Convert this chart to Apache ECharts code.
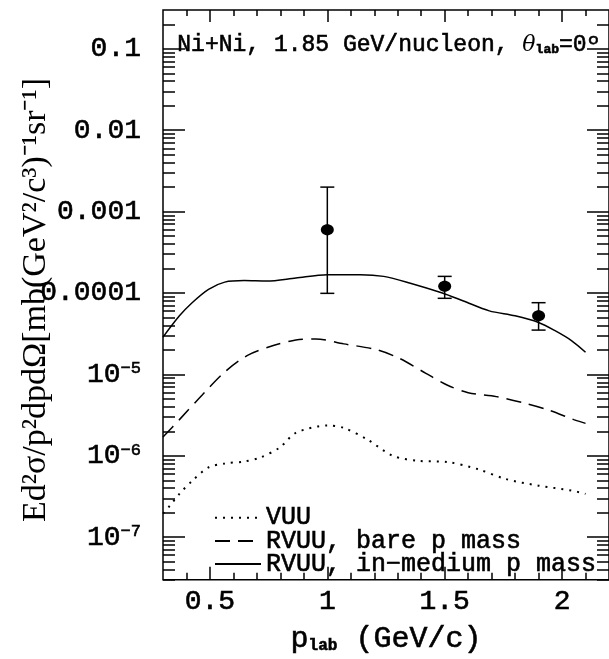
<!DOCTYPE html>
<html>
<head>
<meta charset="utf-8">
<script src="https://cdn.jsdelivr.net/npm/echarts@6/dist/echarts.min.js"></script>
<style>
  html, body { margin: 0; padding: 0; background: #fff; }
  #chart { width: 609px; height: 659px; }
</style>
</head>
<body>
<div id="chart"></div>
<script>
// curves, p_lab in GeV/c
var vuuP     = [0.30, 0.33, 0.37, 0.425, 0.494, 0.563, 0.646, 0.714, 0.797, 0.866, 1.00, 1.07, 1.17, 1.28, 1.39, 1.51, 1.64, 1.76, 1.90, 2.04, 2.10]
var vuuV     = [1.95e-7, 2.45e-7, 3.4e-7, 4.94e-7, 7.2e-7, 8.04e-7, 8.5e-7, 9.5e-7, 1.26e-6, 1.91e-6, 2.35e-6, 2.2e-6, 1.59e-6, 9.95e-7, 8.65e-7, 8.4e-7, 6.86e-7, 5.18e-7, 4.29e-7, 3.74e-7, 3.4e-7]
var bareP    = [0.30, 0.37, 0.467, 0.563, 0.66, 0.77, 0.866, 0.95, 1.07, 1.21, 1.31, 1.42, 1.51, 1.60, 1.72, 1.83, 1.94, 2.05, 2.10]
var bareV    = [1.7e-6, 2.78e-6, 5.58e-6, 1.07e-5, 1.71e-5, 2.26e-5, 2.65e-5, 2.73e-5, 2.37e-5, 2.01e-5, 1.56e-5, 1.03e-5, 7.4e-6, 5.96e-6, 5.33e-6, 4.51e-6, 3.67e-6, 2.78e-6, 2.5e-6]
var mediumP  = [0.30, 0.37, 0.424, 0.494, 0.563, 0.646, 0.742, 0.866, 1.00, 1.14, 1.24, 1.35, 1.49, 1.58, 1.69, 1.80, 1.90, 1.97, 2.04, 2.10]
var mediumV  = [2.87e-5, 5.24e-5, 7.6e-5, 1.11e-4, 1.36e-4, 1.42e-4, 1.40e-4, 1.53e-4, 1.68e-4, 1.68e-4, 1.60e-4, 1.33e-4, 1.0e-4, 7.97e-5, 6.03e-5, 5.24e-5, 4.34e-5, 3.44e-5, 2.6e-5, 1.87e-5]

// measured points with error bars
var dataP  = [1.0, 1.5, 1.9]
var dataV  = [6.0e-4, 1.21e-4, 5.24e-5]
var dataLo = [9.9e-5, 8.6e-5, 3.5e-5]
var dataHi = [2.0e-3, 1.6e-4, 7.6e-5]

// ticks
var xMajor = [0.5, 1, 1.5, 2]
var xMinor = [0.4, 0.6, 0.7, 0.8, 0.9, 1.1, 1.2, 1.3, 1.4, 1.6, 1.7, 1.8, 1.9, 2.1]
var yMajor = [1e-7, 1e-6, 1e-5, 1e-4, 1e-3, 1e-2, 1e-1]
var yLabels = ['10|−7', '10|−6', '10|−5', '0.0001', '0.001', '0.01', '0.1']
var yDecades = [1e-8, 1e-7, 1e-6, 1e-5, 1e-4, 1e-3, 1e-2, 1e-1]
var yMult = [2, 3, 4, 5, 6, 7, 8, 9]

var names = ['VUU', 'RVUU, bare p mass', 'RVUU, in−medium p mass']

var mono = 'Liberation Mono'
// thin mono font, thickened a little with a text border
var ink = { color: '#000', textBorderColor: '#000', textBorderWidth: 0.6 }
var gInk = { fill: '#000', stroke: '#000', lineWidth: 0.6 }

var yMinor = []
yDecades.forEach(function (d) {
  yMult.forEach(function (m) {
    var v = d * m
    if (v >= 3e-8 && v <= 0.3) yMinor.push(v)
  })
})

function pairs(xs, ys) {
  return xs.map(function (x, i) { return [x, ys[i]] })
}

function txt(size, extra) {
  return Object.assign({ fontFamily: mono, fontSize: size }, ink, extra || {})
}

function gtxt(size, extra) {
  return Object.assign({ fontFamily: mono, fontSize: size }, gInk, extra || {})
}

function xAx(pos, ticks, len, labels) {
  return {
    type: 'value', position: pos, min: 0.3, max: 2.2,
    axisLine: { show: false },
    axisTick: { show: true, inside: true, length: len, customValues: ticks, lineStyle: { color: '#000', width: 1.5 } },
    axisLabel: labels ? Object.assign({
      show: true, customValues: xMajor, margin: 8,
      formatter: function (v) { return String(Math.round(v * 10) / 10) }
    }, txt(28)) : { show: false },
    splitLine: { show: false }
  }
}

function yAx(pos, ticks, len, labels) {
  return {
    type: 'log', logBase: 10, position: pos, min: 3e-8, max: 0.3,
    axisLine: { show: false },
    axisTick: { show: true, inside: true, length: len, customValues: ticks, lineStyle: { color: '#000', width: 1.5 } },
    axisLabel: labels ? {
      show: true, customValues: yMajor, margin: 22,
      formatter: function (v) {
        var k = Math.round(Math.log10(v)) + 7
        var s = yLabels[k] || ''
        if (s.indexOf('|') >= 0) {
          var a = s.split('|')
          return '{b|' + a[0] + '}{e|' + a[1] + '}'
        }
        return '{b|' + s + '}'
      },
      rich: {
        b: txt(28, { verticalAlign: 'bottom' }),
        e: txt(17, { verticalAlign: 'top' })
      }
    } : { show: false },
    splitLine: { show: false }
  }
}

var xAxes = [xAx('bottom', xMajor, 13, true), xAx('bottom', xMinor, 7), xAx('top', xMajor, 12), xAx('top', xMinor, 6)]
xAxes[0].name = '{p|p}{s|lab}{p| (GeV/c)}'
xAxes[0].nameLocation = 'middle'
xAxes[0].nameGap = 44
xAxes[0].nameTextStyle = {
  rich: {
    p: txt(30, { verticalAlign: 'top' }),
    s: txt(16, { fontWeight: 'bold', verticalAlign: 'bottom', padding: [10, 0, 0, 0] })
  }
}

var yAxes = [yAx('left', yMajor, 22, true), yAx('left', yMinor, 12), yAx('right', yMajor, 22), yAx('right', yMinor, 12)]

var lineBase = { type: 'line', xAxisIndex: 0, yAxisIndex: 0, symbol: 'none', smooth: 0.3, silent: true, color: '#000' }

var chart = echarts.init(document.getElementById('chart'))
chart.setOption({
  animation: false,
  backgroundColor: '#fff',
  grid: { left: 163, top: 10, right: -14, bottom: 73, show: true, borderColor: '#000', borderWidth: 1.5, containLabel: false },
  xAxis: xAxes,
  yAxis: yAxes,
  legend: {
    data: names, orient: 'vertical', left: 209, top: 500,
    itemWidth: 46, itemHeight: 14, itemGap: -2.5, selectedMode: false,
    itemStyle: { opacity: 0 },
    textStyle: txt(25)
  },
  graphic: [
    {
      type: 'text', left: 177, top: 33, silent: true,
      style: {
        text: '{t|Ni+Ni, 1.85 GeV/nucleon, }{g|θ}{s|lab}{t|=0º}',
        rich: {
          t: gtxt(23),
          g: { fontFamily: 'DejaVu Serif', fontStyle: 'italic', fontSize: 22, fill: '#000' },
          s: gtxt(13, { fontWeight: 'bold', verticalAlign: 'bottom', padding: [10, 0, 0, 0] })
        }
      }
    },
    {
      type: 'text', x: 36, y: 300, rotation: Math.PI / 2, silent: true,
      style: {
        text: 'Ed²σ/p²dpdΩ[mb(GeV²/c³)⁻¹sr⁻¹]',
        fontFamily: 'Liberation Serif', fontSize: 34, fill: '#000',
        align: 'center', verticalAlign: 'middle', textAlign: 'center', textVerticalAlign: 'middle'
      }
    }
  ],
  series: [
    Object.assign({}, lineBase, { name: names[0], data: pairs(vuuP, vuuV), lineStyle: { color: '#000', width: 2, type: [2, 6] } }),
    Object.assign({}, lineBase, { name: names[1], data: pairs(bareP, bareV), lineStyle: { color: '#000', width: 1.5, type: [15, 8] } }),
    Object.assign({}, lineBase, { name: names[2], data: pairs(mediumP, mediumV), lineStyle: { color: '#000', width: 1.5, type: 'solid' } }),
    {
      type: 'custom', xAxisIndex: 0, yAxisIndex: 0, silent: true,
      data: dataP.map(function (p, i) { return [p, dataV[i], dataLo[i], dataHi[i]] }),
      encode: { x: 0, y: [1, 2, 3] },
      renderItem: function (params, api) {
        var x = api.value(0)
        var c = api.coord([x, api.value(1)])
        var lo = api.coord([x, api.value(2)])
        var hi = api.coord([x, api.value(3)])
        var w = 7
        var st = { stroke: '#000', lineWidth: 1.5 }
        return {
          type: 'group',
          children: [
            { type: 'line', shape: { x1: lo[0], y1: lo[1], x2: hi[0], y2: hi[1] }, style: st },
            { type: 'line', shape: { x1: lo[0] - w, y1: lo[1], x2: lo[0] + w, y2: lo[1] }, style: st },
            { type: 'line', shape: { x1: hi[0] - w, y1: hi[1], x2: hi[0] + w, y2: hi[1] }, style: st },
            { type: 'ellipse', shape: { cx: c[0], cy: c[1], rx: 6.5, ry: 5.5 }, style: { fill: '#000' } }
          ]
        }
      }
    }
  ]
})
</script>
</body>
</html>
